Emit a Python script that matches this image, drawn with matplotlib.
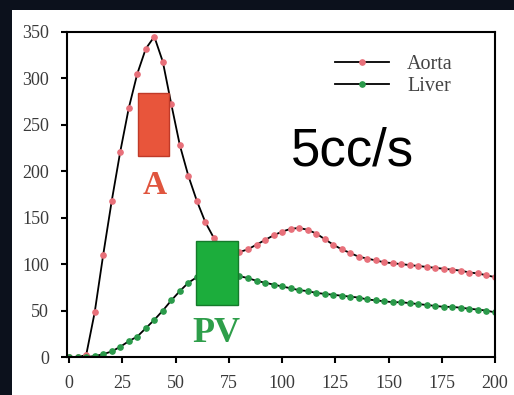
import matplotlib
matplotlib.use("Agg")
import matplotlib.pyplot as plt
from matplotlib.patches import Rectangle

# time (s) and enhancement values
t = list(range(0, 201, 4))
aorta = [0, 0, 2, 48, 110, 168, 221, 268, 305, 332,
         345, 318, 272, 228, 195, 168, 145, 128, 117, 112,
         113, 116, 121, 126, 131, 135, 138, 139, 137, 133,
         127, 121, 116, 112, 108, 106, 104, 102, 101, 100,
         99, 98, 97, 96, 95, 94, 93, 91, 90, 88, 86]
liver = [0, 0, 0, 1, 3, 6, 11, 17, 22, 31,
         40, 50, 61, 71, 80, 86, 90, 92, 92, 90,
         87, 85, 82, 80, 78, 76, 74, 72, 71, 69,
         68, 67, 66, 65, 64, 62, 61, 60, 59, 59,
         58, 57, 56, 55, 54, 54, 53, 52, 51, 50, 48]

xticks = [0, 25, 50, 75, 100, 125, 150, 175, 200]
yticks = [0, 50, 100, 150, 200, 250, 300, 350]

serif = "Liberation Serif"

fig = plt.figure(figsize=(5.14, 3.95), dpi=100, facecolor="#0c111c")
fig.patches.append(Rectangle((12 / 514, 0), 1, (395 - 10) / 395,
                             transform=fig.transFigure, facecolor="white",
                             edgecolor="none", zorder=-10))
ax = fig.add_axes([67 / 514, 38 / 395, 428 / 514, 325 / 395])
ax.set_facecolor("white")

ax.plot(t, aorta, color="black", lw=1.3, marker="o", ms=3.8,
        mfc="#e8707a", mec="#e8707a", label="Aorta")
ax.plot(t, liver, color="black", lw=1.3, marker="o", ms=3.8,
        mfc="#2a9a4a", mec="#2a9a4a", label="Liver")

# region-of-interest boxes
ax.add_patch(Rectangle((32.5, 216), 14.5, 68, facecolor="#e8553b",
                       edgecolor="#c03a28", lw=1, zorder=5))
ax.add_patch(Rectangle((59.5, 56), 20, 69, facecolor="#1cad3c",
                       edgecolor="#147a2a", lw=1, zorder=5))
ax.text(40, 185, "A", ha="center", va="center", fontsize=24,
        fontweight="bold", color="#e0553e", family=serif)
ax.text(69, 25, "PV", ha="center", va="center", fontsize=26,
        fontweight="bold", color="#2e9e4a", family=serif)
ax.text(133, 221, "5cc/s", ha="center", va="center", fontsize=38,
        color="black", family="Liberation Sans")

ax.set_xlim(-1, 200)
ax.set_ylim(0, 350)
ax.set_xticks(xticks)
ax.set_yticks(yticks)
for s in ax.spines.values():
    s.set_linewidth(1.5)
ax.tick_params(direction="out", length=4, width=1.5, pad=9,
               labelsize=13, labelcolor="#3a3a3a")
for lab in ax.get_xticklabels() + ax.get_yticklabels():
    lab.set_family(serif)

leg = ax.legend(loc="upper right", bbox_to_anchor=(0.925, 0.96),
                frameon=False, handlelength=2.7, handletextpad=0.9,
                borderpad=0, labelspacing=0.15,
                prop={"family": serif, "size": 14.5})
for txt in leg.get_texts():
    txt.set_color("#444444")

fig.savefig("out.png", dpi=100, facecolor=fig.get_facecolor())
